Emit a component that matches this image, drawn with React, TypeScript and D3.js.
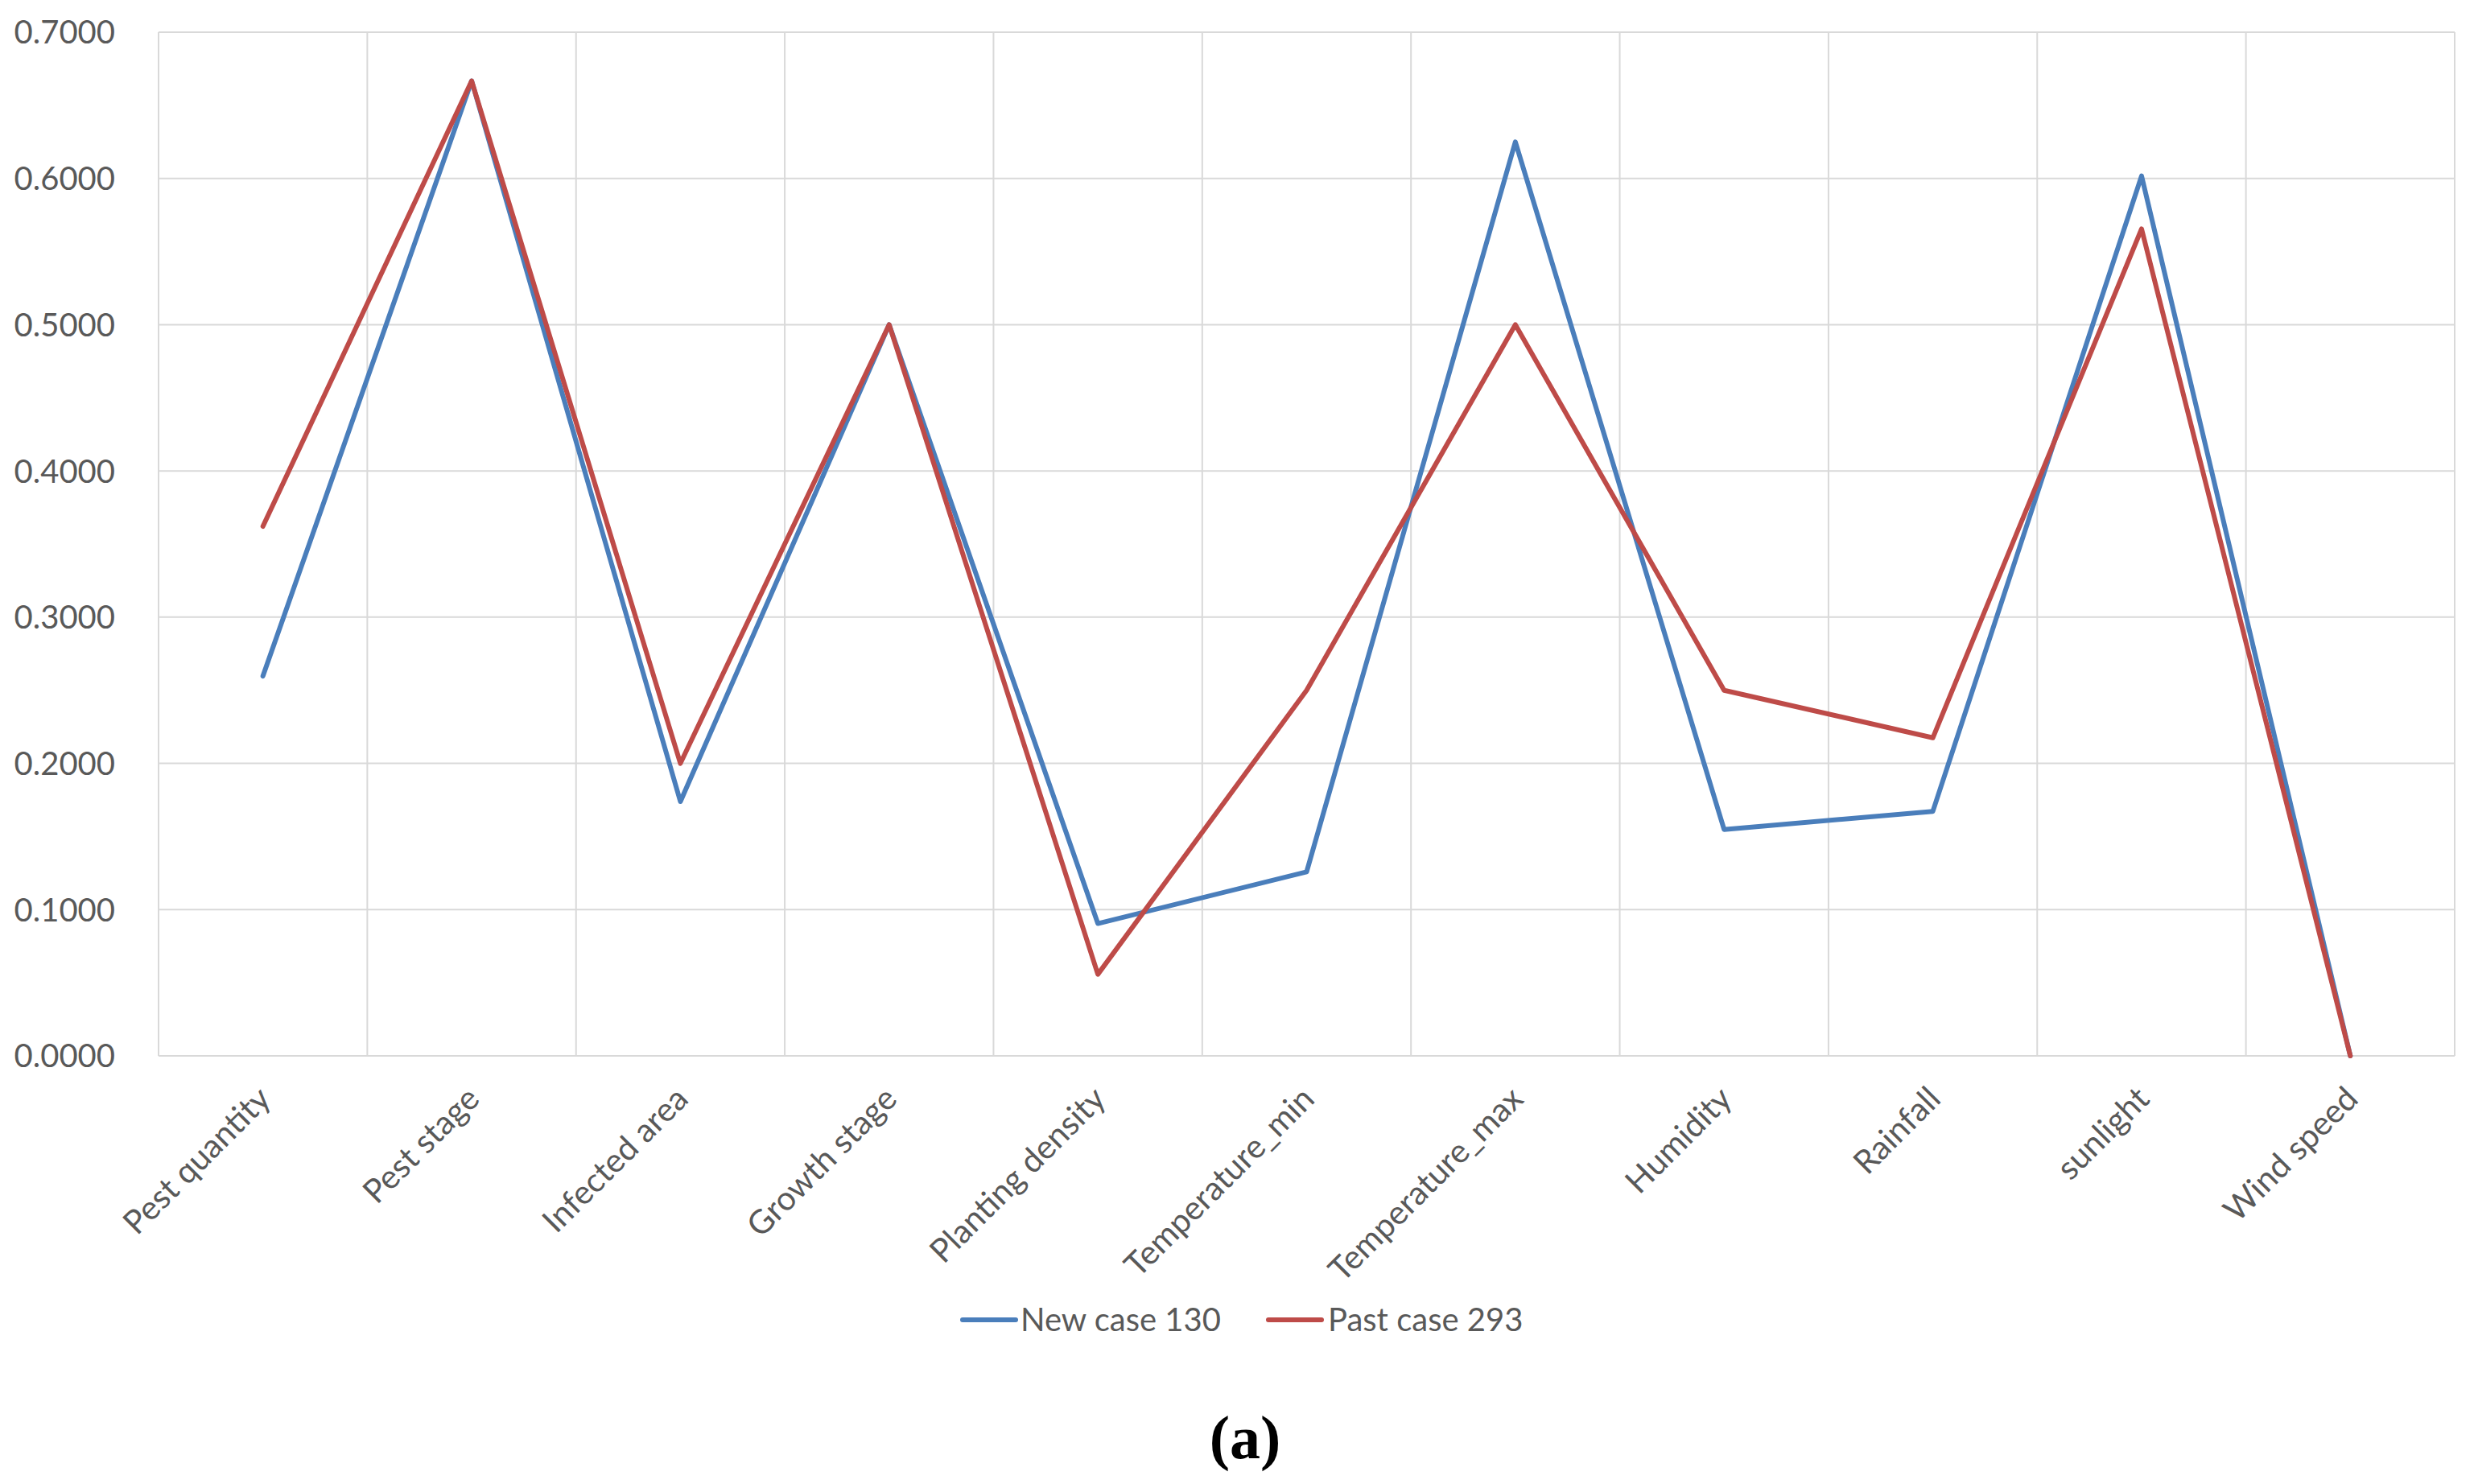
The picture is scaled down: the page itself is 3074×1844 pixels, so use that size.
import React from "react";
import * as d3 from "d3";

const categories = [
  "Pest quantity",
  "Pest stage",
  "Infected area",
  "Growth stage",
  "Planting density",
  "Temperature_min",
  "Temperature_max",
  "Humidity",
  "Rainfall",
  "sunlight",
  "Wind speed",
];
const newCase130 = [0.2597, 0.6667, 0.1739, 0.5, 0.0905, 0.1258, 0.625, 0.1548, 0.1672, 0.6017, 0];
const pastCase293 = [0.3621, 0.6667, 0.2, 0.5, 0.0558, 0.25, 0.5, 0.25, 0.2175, 0.5655, 0];
const yTicks = [0, 0.1, 0.2, 0.3, 0.4, 0.5, 0.6, 0.7];
const seriesNames = ["New case 130", "Past case 293"];
const seriesColors = ["#4a7ebb", "#be4b48"];

const W = 3074;
const H = 1844;
const M = { left: 197, right: 3050, top: 40, bottom: 1312 };
const FONT = "Lato, 'Open Sans', sans-serif";

export default function App() {
  const x = d3.scaleBand<string>().domain(categories).range([M.left, M.right]).padding(0);
  const y = d3.scaleLinear().domain([0, 0.7]).range([M.bottom, M.top]);
  const line = d3
    .line<number>()
    .x((_, i) => (x(categories[i]) as number) + x.bandwidth() / 2)
    .y((d) => y(d));
  const series = [newCase130, pastCase293];
  const boundaries = d3.range(categories.length + 1).map((i) => M.left + i * x.bandwidth());

  return (
    <svg
      width={W}
      height={H}
      viewBox={`0 0 ${W} ${H}`}
      style={{ position: "absolute", left: 0, top: 0, background: "#fff" }}
    >
      <rect x={0} y={0} width={W} height={H} fill="#fff" />
      {yTicks.map((t) => (
        <line key={"h" + t} x1={M.left} x2={M.right} y1={y(t)} y2={y(t)} stroke="#d9d9d9" strokeWidth={2} />
      ))}
      {boundaries.map((bx, i) => (
        <line key={"v" + i} x1={bx} x2={bx} y1={M.top} y2={M.bottom} stroke="#d9d9d9" strokeWidth={2} />
      ))}
      {yTicks.map((t) => (
        <text
          key={"yt" + t}
          x={143}
          y={y(t)}
          dy="0.36em"
          textAnchor="end"
          fontFamily={FONT}
          fontSize={40}
          fill="#595959"
        >
          {t.toFixed(4)}
        </text>
      ))}
      {categories.map((c) => {
        const cx = (x(c) as number) + x.bandwidth() / 2;
        const ex = cx + 12;
        const ey = M.bottom + 56;
        return (
          <text
            key={"xl" + c}
            x={ex}
            y={ey}
            textAnchor="end"
            transform={`rotate(-45 ${ex} ${ey})`}
            fontFamily={FONT}
            fontSize={41}
            fill="#595959"
          >
            {c}
          </text>
        );
      })}
      {series.map((s, k) => (
        <path
          key={"s" + k}
          d={line(s) as string}
          fill="none"
          stroke={seriesColors[k]}
          strokeWidth={6}
          strokeLinejoin="round"
          strokeLinecap="round"
        />
      ))}
      {[
        { lx: 1196, tx: 1268 },
        { lx: 1576, tx: 1650 },
      ].map((p, k) => (
        <g key={"lg" + k}>
          <line x1={p.lx} x2={p.lx + 66} y1={1640} y2={1640} stroke={seriesColors[k]} strokeWidth={6} strokeLinecap="round" />
          <text x={p.tx} y={1640} dy="0.36em" fontFamily={FONT} fontSize={40} fill="#595959">
            {seriesNames[k]}
          </text>
        </g>
      ))}
      <text
        x={1547}
        y={1812}
        textAnchor="middle"
        fontFamily="'Liberation Serif', 'Times New Roman', serif"
        fontWeight="bold"
        fontSize={76}
        fill="#000"
      >
        (a)
      </text>
    </svg>
  );
}
